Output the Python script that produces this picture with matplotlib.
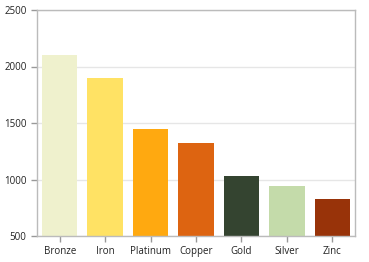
import matplotlib
matplotlib.use("Agg")
import matplotlib.pyplot as plt

categories = ["Bronze", "Iron", "Platinum", "Copper", "Gold", "Silver", "Zinc"]
values = [2100, 1895, 1445, 1320, 1035, 940, 825]
colors = ["#EFF1CD", "#FFE264", "#FFA910", "#DD6411", "#344430", "#C4DBAA", "#983309"]
yticks = [500, 1000, 1500, 2000, 2500]

plt.rcParams["font.family"] = ["Open Sans", "DejaVu Sans"]
fig = plt.figure(figsize=(3.69, 2.62), dpi=100)
ax = fig.add_axes([37/369, 1 - 236/262, (355-37)/369, (236-10)/262])
x = range(len(categories))
ax.bar(x, values, width=0.78, color=colors, zorder=2)
ax.set_xlim(-0.5, len(categories) - 0.5)
ax.set_ylim(500, 2500)
ax.set_yticks(yticks)
ax.set_xticks(list(x))
ax.set_xticklabels(categories)
ax.yaxis.grid(True, color="#E6E6E6", linewidth=1, zorder=0)
for s in ax.spines.values():
    s.set_color("#BBBBBB")
    s.set_linewidth(1)
ax.tick_params(axis="both", colors="#999999", labelcolor="#222222", labelsize=7, length=4, width=1)
fig.savefig("out.png", dpi=100)
